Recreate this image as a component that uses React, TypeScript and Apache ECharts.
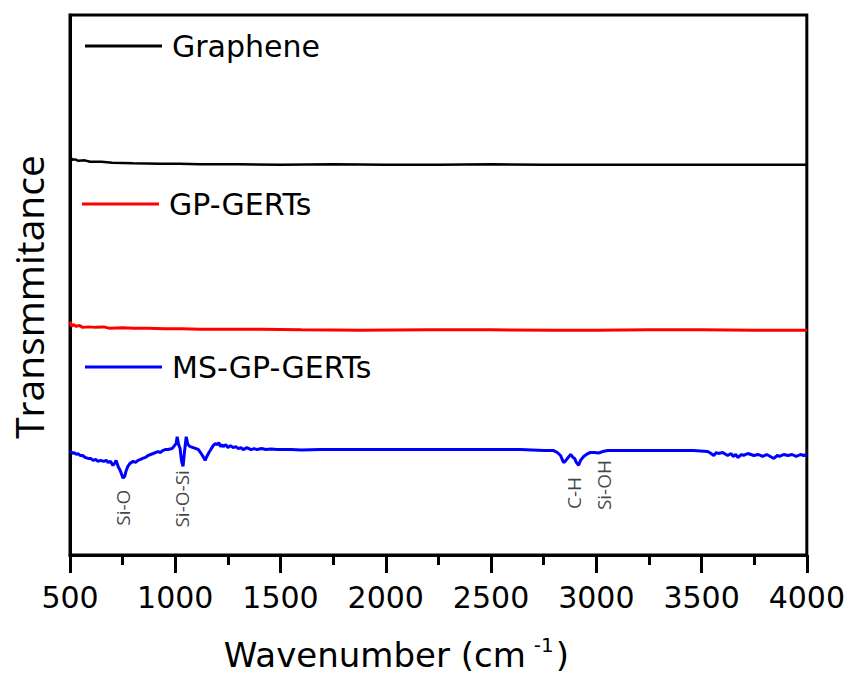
import React, { useEffect, useRef } from "react";
import * as echarts from "echarts";

// Series names
const seriesNames = ["Graphene", "GP-GERTs", "MS-GP-GERTs"];
const seriesColors = ["#000000", "#ff0000", "#0000ff"];

// Graphene: [wavenumber (cm-1), transmittance (a.u.)]
const grapheneSpectrum = [
  [500, 402], [505, 403], [510, 401], [525, 401.5], [540, 400], [570, 400.5], [595, 399], [650, 399],
  [700, 398], [800, 397.5], [928, 397], [1020, 397], [1118, 396.5], [1300, 396.5], [1500, 396],
  [1750, 396.5], [2000, 396], [2250, 396], [2500, 396.5], [2750, 396], [3000, 396], [3250, 396],
  [3500, 396], [3750, 396], [4000, 396],
];

// GP-GERTs
const gpSpectrum = [
  [500, 237], [503, 235], [508, 232], [515, 234], [530, 232], [545, 233], [560, 231], [590, 231.5],
  [620, 231], [660, 231.5], [690, 230], [750, 230.5], [800, 230], [870, 230], [950, 229.5],
  [1030, 229.5], [1118, 229], [1250, 229], [1400, 229], [1600, 228.5], [1879, 228], [2200, 228.5],
  [2500, 228.5], [2800, 228], [3000, 228], [3250, 228.5], [3500, 228.5], [3750, 228], [4000, 228],
];

// MS-GP-GERTs
const msSpectrum = [
  [500, 104], [505, 105], [512, 103], [520, 104], [530, 102], [538, 103], [548, 101], [560, 101],
  [572, 99], [586, 98], [598, 98], [610, 96], [622, 97], [633, 95], [645, 96], [660, 95], [672, 96],
  [681, 94], [692, 95], [704, 91], [712, 93], [719, 96], [730, 89], [738, 86], [745, 82], [752, 78],
  [760, 80], [766, 85], [775, 90], [785, 93], [800, 95], [812, 94], [823, 96], [835, 97], [845, 98],
  [858, 99], [871, 101], [883, 102], [895, 103], [906, 104], [918, 105], [930, 104], [940, 106],
  [952, 107], [966, 107], [985, 108], [1004, 113], [1009, 120], [1016, 112], [1023, 108], [1030, 95],
  [1037, 90], [1044, 105], [1052, 120], [1060, 112], [1071, 110], [1085, 109], [1099, 108], [1110, 107],
  [1120, 104], [1132, 100], [1142, 96], [1150, 100], [1160, 104], [1166, 106], [1180, 111], [1190, 113],
  [1199, 112], [1207, 114], [1215, 110], [1222, 112], [1228, 110], [1240, 112], [1250, 109], [1262, 111],
  [1275, 109], [1288, 110], [1300, 108], [1312, 109], [1323, 107], [1340, 109], [1360, 107], [1375, 108],
  [1389, 107], [1410, 108], [1430, 107], [1455, 107.5], [1484, 107], [1550, 107], [1600, 106.5],
  [1689, 107], [1800, 107], [1900, 107], [2069, 107], [2200, 107], [2307, 107], [2400, 107], [2500, 107],
  [2640, 107], [2750, 106], [2797, 106], [2815, 104], [2830, 101], [2838, 97], [2844, 94], [2852, 95],
  [2863, 98], [2878, 102], [2890, 99], [2897, 98], [2905, 94], [2916, 91], [2925, 96], [2940, 100],
  [2960, 103], [2973, 104], [2990, 104], [3011, 103.5], [3030, 105], [3054, 106], [3196, 106], [3300, 106],
  [3401, 106], [3460, 106], [3529, 105], [3545, 103], [3558, 101], [3570, 104], [3580, 103], [3600, 104],
  [3624, 101], [3640, 103], [3650, 100], [3662, 102], [3672, 99], [3690, 102], [3700, 101], [3720, 103],
  [3748, 101], [3770, 102], [3790, 100], [3810, 102], [3843, 98], [3860, 101], [3870, 100], [3890, 102],
  [3910, 101], [3930, 102], [3950, 100], [3970, 102], [3986, 101], [4000, 102],
];

// Band annotations
const bandNames = ["Si-O", "Si-O-Si", "C-H", "Si-OH"];
const bandWn = [752, 1033, 2892, 3035];
const bandT = [48, 57, 63, 71];

// X axis ticks
const xMin = 500;
const xMax = 4000;
const xStep = 500;

export default function App() {
  const ref = useRef<HTMLDivElement>(null);
  useEffect(() => {
    if (!ref.current) return;
    const chart = echarts.init(ref.current, null, { renderer: "svg" });
    const lineData = [grapheneSpectrum, gpSpectrum, msSpectrum];
    const widths = [2.5, 3, 3];
    const legendPos = [
      { left: 85, top: 31 },
      { left: 82, top: 189 },
      { left: 85, top: 352 },
    ];
    chart.setOption({
      animation: false,
      backgroundColor: "#ffffff",
      grid: {
        left: 70,
        right: 38,
        top: 15,
        bottom: 117,
        show: true,
        borderColor: "#000",
        borderWidth: 3,
        backgroundColor: "transparent",
      },
      legend: seriesNames.map((n, i) => ({
        data: [n],
        left: legendPos[i].left,
        top: legendPos[i].top,
        padding: 0,
        icon: "rect",
        itemWidth: 77,
        itemHeight: 3,
        selectedMode: false,
        textStyle: {
          fontFamily: "DejaVu Sans",
          fontSize: 30,
          color: "#000",
          padding: [0, 0, 0, 5],
        },
      })),
      xAxis: {
        type: "value",
        min: xMin,
        max: xMax,
        interval: xStep,
        name: "Wavenumber (cm{sup|-1})",
        nameLocation: "middle",
        nameGap: 80,
        nameTextStyle: {
          fontFamily: "DejaVu Sans",
          fontSize: 34,
          color: "#000",
          padding: [0, 84, 0, 0],
          lineHeight: 40,
          rich: {
            sup: {
              fontFamily: "DejaVu Sans",
              fontSize: 20,
              color: "#000",
              verticalAlign: "top",
              lineHeight: 20,
              padding: [0, 2, 0, 8],
            },
          },
        },
        axisLine: { show: true, lineStyle: { color: "#000", width: 3 } },
        axisTick: { show: true, inside: false, length: 18, lineStyle: { color: "#000", width: 3 } },
        minorTick: { show: true, splitNumber: 2, length: 10, lineStyle: { color: "#000", width: 3 } },
        splitLine: { show: false },
        axisLabel: {
          margin: 27,
          fontFamily: "DejaVu Sans",
          fontSize: 30,
          color: "#000",
          formatter: (v: number) => String(v),
        },
      },
      yAxis: {
        type: "value",
        min: 0,
        max: 548,
        name: "Transmmitance",
        nameLocation: "middle",
        nameRotate: 90,
        nameGap: 22,
        nameTextStyle: {
          fontFamily: "Open Sans",
          fontSize: 39,
          color: "#000",
          padding: [0, 24, 0, 0],
        },
        axisLine: { show: true, lineStyle: { color: "#000", width: 3 } },
        axisTick: { show: false },
        axisLabel: { show: false },
        splitLine: { show: false },
      },
      series: [
        ...seriesNames.map((n, i) => ({
          name: n,
          type: "line",
          data: lineData[i],
          symbol: "none",
          showSymbol: false,
          color: seriesColors[i],
          lineStyle: { color: seriesColors[i], width: widths[i] },
          z: 3 + i,
        })),
        {
          name: "bands",
          type: "scatter",
          symbolSize: 0,
          data: bandNames.map((b, i) => ({ name: b, value: [bandWn[i], bandT[i]] })),
          label: {
            show: true,
            position: "inside",
            rotate: 90,
            formatter: (p: any) => p.name,
            fontFamily: "Open Sans",
            fontSize: 19,
            color: "#111",
          },
          silent: true,
          z: 10,
        },
      ],
    });
    return () => chart.dispose();
  }, []);
  return (
    <div
      ref={ref}
      style={{ position: "absolute", left: 0, top: 0, width: 848, height: 680 }}
    />
  );
}
